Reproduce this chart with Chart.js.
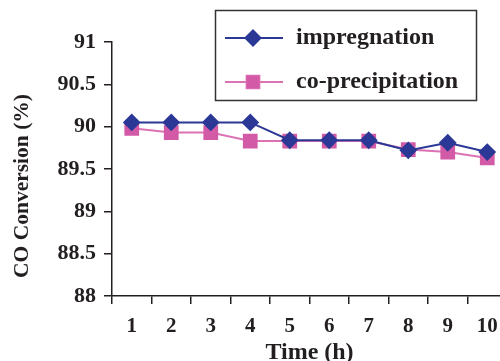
<!DOCTYPE html>
<html>
<head>
<meta charset="utf-8">
<script src="https://cdn.jsdelivr.net/npm/chart.js@4.4.1/dist/chart.umd.min.js"></script>
<style>
  html, body { margin: 0; padding: 0; background: #fff; overflow: hidden; }
  #wrap { width: 520px; height: 361px; }
</style>
</head>
<body>
<div id="wrap"><canvas id="myChart" width="520" height="361"></canvas></div>
<script>
const hours = ['1', '2', '3', '4', '5', '6', '7', '8', '9', '10'];
const impregnation = [90.05, 90.05, 90.05, 90.05, 89.84, 89.84, 89.84, 89.72, 89.81, 89.70];
const coPrecipitation = [89.98, 89.93, 89.93, 89.83, 89.83, 89.83, 89.83, 89.73, 89.70, 89.63];
const yTicks = [88, 88.5, 89, 89.5, 90, 90.5, 91];

const BLUE = '#2b3896';
const PINK = '#d25aa6';
const INK = '#231f20';
const SERIF = '"Liberation Serif", "Times New Roman", serif';

// boxed legend in the upper right plus the rotated y title
const boxLegend = {
    id: 'boxLegend',
    afterDraw(chart) {
        const ctx = chart.ctx;
        ctx.save();
        ctx.strokeStyle = '#333';
        ctx.lineWidth = 1.5;
        ctx.strokeRect(215.5, 10.5, 261, 90);

        const rows = [38, 82];
        chart.data.datasets.forEach((ds, i) => {
            const y = rows[i];
            ctx.strokeStyle = ds.borderColor;
            ctx.lineWidth = 2;
            ctx.beginPath();
            ctx.moveTo(225, y);
            ctx.lineTo(283, y);
            ctx.stroke();
            Chart.helpers.drawPoint(ctx, {
                pointStyle: ds.pointStyle,
                radius: ds.pointRadius,
                borderWidth: 1
            }, 253, y);
            ctx.fillStyle = ds.pointBackgroundColor;
            ctx.fill();
            ctx.fillStyle = INK;
            ctx.font = 'bold 24px ' + SERIF;
            ctx.textBaseline = 'middle';
            ctx.textAlign = 'left';
            ctx.fillText(ds.label, 296, y);
        });

        ctx.translate(22, 186);
        ctx.rotate(-Math.PI / 2);
        ctx.font = 'bold 21.5px ' + SERIF;
        ctx.textAlign = 'center';
        ctx.textBaseline = 'middle';
        ctx.fillStyle = INK;
        ctx.fillText('CO Conversion (%)', 0, 0);
        ctx.restore();
    }
};

const ctx = document.getElementById('myChart').getContext('2d');
new Chart(ctx, {
    type: 'line',
    data: {
        labels: hours,
        datasets: [{
            label: 'impregnation',
            data: impregnation,
            borderColor: BLUE,
            backgroundColor: BLUE,
            pointBackgroundColor: BLUE,
            pointBorderColor: BLUE,
            pointStyle: 'rectRot',
            pointRadius: 7.5,
            borderWidth: 2,
            tension: 0
        }, {
            label: 'co-precipitation',
            data: coPrecipitation,
            borderColor: '#dc72b4',
            backgroundColor: PINK,
            pointBackgroundColor: PINK,
            pointBorderColor: PINK,
            pointStyle: 'rect',
            pointRadius: 9,
            borderWidth: 2,
            tension: 0
        }]
    },
    options: {
        responsive: false,
        animation: false,
        layout: { padding: { top: 42, right: 13, left: 0, bottom: 0 } },
        plugins: {
            legend: { display: false },
            tooltip: { enabled: false }
        },
        scales: {
            x: {
                offset: true,
                grid: {
                    offset: true,
                    drawOnChartArea: false,
                    color: INK,
                    tickLength: 8,
                    lineWidth: 1.5
                },
                border: { color: INK, width: 1.5 },
                ticks: {
                    color: INK,
                    font: { family: SERIF, weight: 'bold', size: 21 },
                    padding: 10,
                    maxRotation: 0
                },
                title: {
                    display: true,
                    text: 'Time (h)',
                    color: INK,
                    font: { family: SERIF, weight: 'bold', size: 24 },
                    padding: { top: 0, bottom: -6 }
                },
                afterFit(scale) { scale.height = 65; }
            },
            y: {
                min: 88,
                max: 91,
                afterBuildTicks(scale) {
                    scale.ticks = yTicks.map(v => ({ value: v }));
                },
                grid: {
                    drawOnChartArea: false,
                    color: INK,
                    tickLength: 8,
                    lineWidth: 1.5
                },
                border: { color: INK, width: 1.5 },
                ticks: {
                    color: INK,
                    font: { family: SERIF, weight: 'bold', size: 22 },
                    padding: 8,
                    callback: v => String(v)
                },
                afterFit(scale) { scale.width = 112; }
            }
        }
    },
    plugins: [boxLegend]
});
</script>
</body>
</html>
